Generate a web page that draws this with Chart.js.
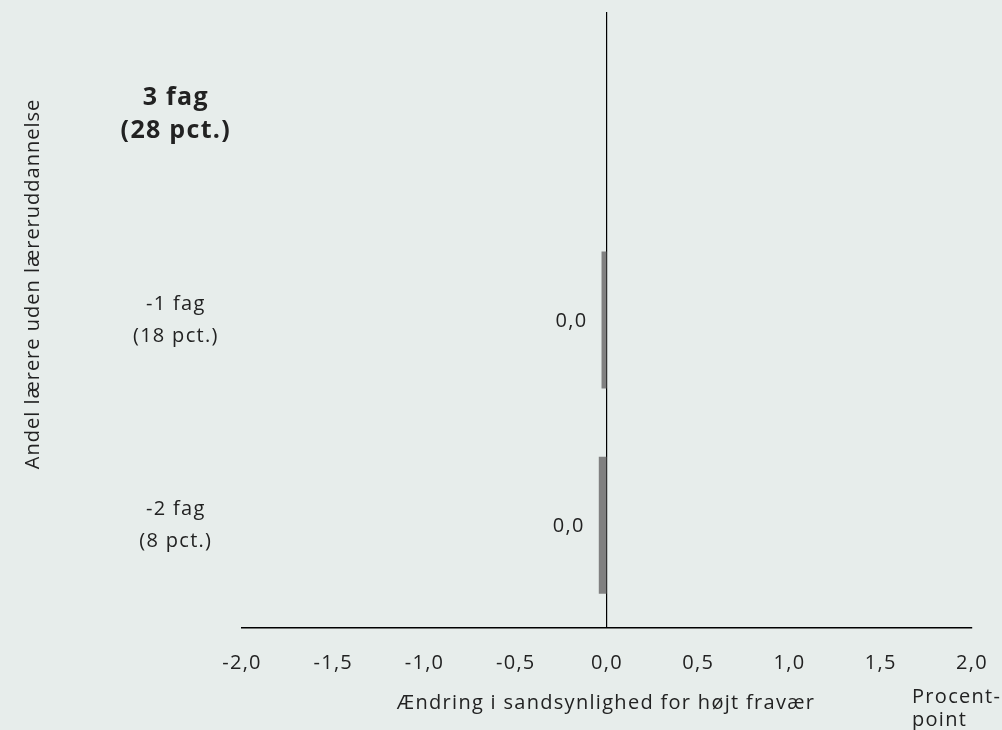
<!DOCTYPE html>
<html lang="da">
  <head>
    <meta charset="UTF-8" />
    <title>Fravær</title>
    <script src="https://cdn.jsdelivr.net/npm/chart.js"></script>
    <style>
      body {
        margin: 0;
        background-color: #e7edeb;
      }
      .chart-container {
        width: 1002px;
        height: 730px;
      }
    </style>
  </head>
  <body>
    <div class="chart-container">
      <canvas id="chart"></canvas>
    </div>

    <script>
      // data
      const categories = [
        ["3 fag", "(28 pct.)"],
        ["-1 fag", "(18 pct.)"],
        ["-2 fag", "(8 pct.)"],
      ];
      const values = [null, -0.03, -0.045];
      const xTicks = [-2, -1.5, -1, -0.5, 0, 0.5, 1, 1.5, 2];
      const yTitle = "Andel lærere uden læreruddannelse";
      const xTitle = "Ændring i sandsynlighed for højt fravær";
      const unitLabel = ["Procent-", "point"];

      const FONT = "'Open Sans', sans-serif";
      const TEXT = "#222";
      const SPACING = "1.3px";

      function fmt(v) {
        let s = v.toFixed(1);
        if (parseFloat(s) === 0) s = "0.0";
        return s.replace(".", ",");
      }

      // bredere tekst som i originalen
      const spacing = {
        id: "spacing",
        beforeLayout(chart) {
          chart.ctx.letterSpacing = SPACING;
        },
        beforeDraw(chart) {
          chart.ctx.letterSpacing = SPACING;
        },
      };

      // labels ved siden af søjlerne + aksetitler
      const extras = {
        id: "extras",
        afterDatasetsDraw(chart) {
          const ctx = chart.ctx;
          const meta = chart.getDatasetMeta(0);
          ctx.save();
          ctx.letterSpacing = SPACING;
          ctx.fillStyle = TEXT;
          ctx.font = "20px " + FONT;
          ctx.textAlign = "right";
          ctx.textBaseline = "middle";
          meta.data.forEach((bar, i) => {
            if (values[i] === null) return;
            const left = Math.min(bar.x, bar.base);
            ctx.fillText(fmt(values[i]), left - 14, bar.y + 1);
          });

          // x titel
          ctx.textAlign = "center";
          ctx.fillText(xTitle, 606, 703);

          // enhed
          ctx.textAlign = "left";
          ctx.fillText(unitLabel[0], 912, 697);
          ctx.fillText(unitLabel[1], 912, 720);

          // y titel
          ctx.letterSpacing = "1px";
          ctx.translate(33, 284);
          ctx.rotate(-Math.PI / 2);
          ctx.textAlign = "center";
          ctx.fillText(yTitle, 0, 0);
          ctx.restore();
        },
      };

      new Chart(document.getElementById("chart"), {
        type: "bar",
        data: {
          labels: categories,
          datasets: [
            {
              data: values,
              backgroundColor: "#808080",
              categoryPercentage: 1,
              barPercentage: 0.667,
            },
          ],
        },
        options: {
          indexAxis: "y",
          responsive: true,
          maintainAspectRatio: false,
          animation: false,
          layout: { padding: { top: 12, right: 30, left: 0, bottom: 0 } },
          plugins: {
            legend: { display: false },
            tooltip: { enabled: false },
          },
          scales: {
            x: {
              min: -2,
              max: 2,
              afterBuildTicks: (scale) => {
                scale.ticks = xTicks.map((v) => ({ value: v }));
              },
              afterFit: (scale) => {
                scale.height = 102;
                scale.paddingLeft = 0;
                scale.paddingRight = 0;
              },
              border: { display: true, color: "#000", width: 1.5 },
              grid: {
                drawTicks: false,
                color: (c) => (c.tick && c.tick.value === 0 ? "#000" : "rgba(0,0,0,0)"),
                lineWidth: 1.2,
              },
              ticks: {
                padding: 23,
                color: TEXT,
                font: { family: FONT, size: 20 },
                callback: (v) => fmt(v),
              },
            },
            y: {
              afterFit: (scale) => {
                scale.width = 242;
                scale.paddingTop = 0;
                scale.paddingBottom = 0;
              },
              border: { display: false },
              grid: { display: false, drawTicks: false },
              ticks: {
                crossAlign: "center",
                padding: 11,
                color: TEXT,
                font: (c) =>
                  c.index === 0
                    ? { family: FONT, size: 25, weight: "bold", lineHeight: 1.32 }
                    : { family: FONT, size: 20, lineHeight: 1.6 },
              },
            },
          },
        },
        plugins: [spacing, extras],
      });
    </script>
  </body>
</html>
